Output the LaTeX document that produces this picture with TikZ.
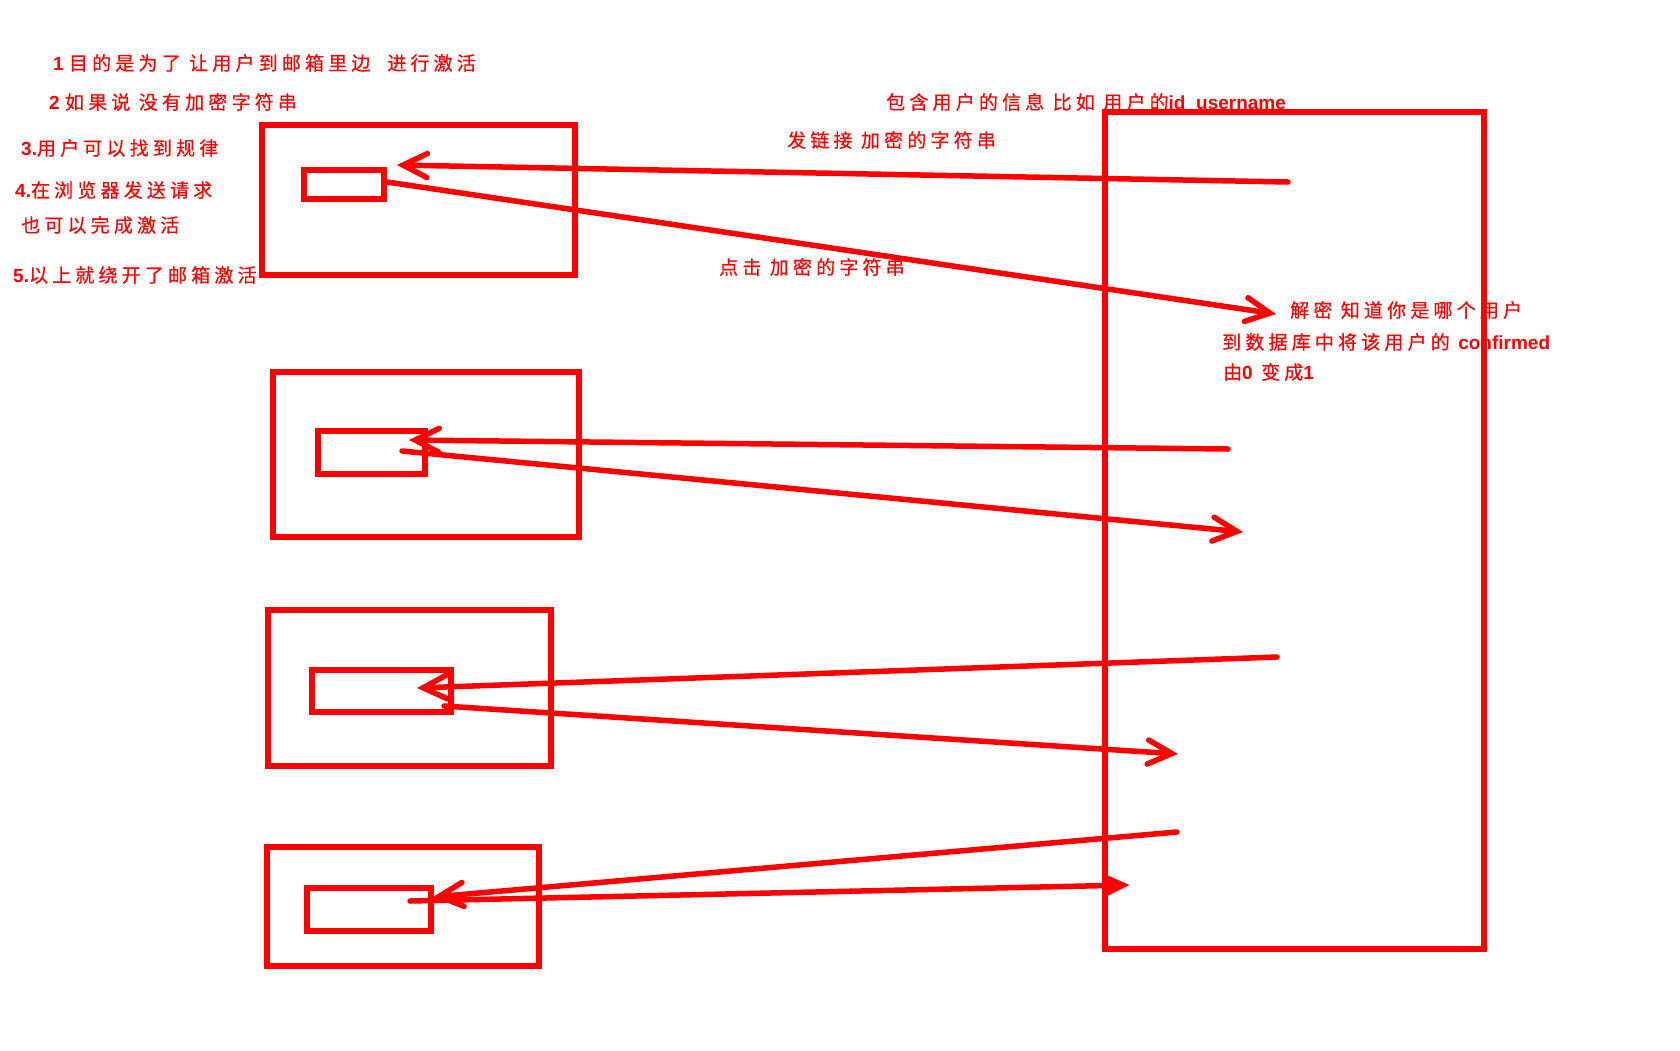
\documentclass[tikz,border=0pt]{standalone}
\usepackage{fontspec}
\setmainfont{Liberation Sans}
\newfontfamily\cjkfont[LetterSpace=22,FakeBold=0.6]{Noto Sans CJK SC}
\newfontfamily\latfont{Liberation Sans}
\usetikzlibrary{arrows.meta}
\definecolor{pen}{RGB}{255,0,0}
\newcommand{\zhtxt}[1]{{\cjkfont #1}}
\newcommand{\entxt}[1]{{\latfont\bfseries #1}}
\tikzset{
  lbl/.style={anchor=west, inner sep=0pt, text=pen, font=\fontsize{19}{22}\selectfont},
  frame/.style={draw=pen, line width=6pt, inner sep=0pt, rectangle},
  conn/.style={draw=pen, line width=5.5pt, line cap=round, line join=round},
  barb/.style={conn, -{Straight Barb[length=24pt,width=24pt,line cap=round]}},
  tri/.style={conn, -{Triangle[length=26pt,width=22pt]}}
}
\begin{document}
\begin{tikzpicture}[x=1pt,y=-1pt]
\useasboundingbox (0,0) rectangle (1680,1050);
% boxes
\node[frame, minimum width=313pt, minimum height=150pt] (b1) at (418.5,200) {};
\node[frame, minimum width=80pt, minimum height=29pt] (s1) at (344,184.5) {};
\node[frame, minimum width=306pt, minimum height=165pt] (b2) at (426,454.5) {};
\node[frame, minimum width=107pt, minimum height=43pt] (s2) at (371.5,452.5) {};
\node[frame, minimum width=283pt, minimum height=156pt] (b3) at (409.5,688) {};
\node[frame, minimum width=139pt, minimum height=42pt] (s3) at (381.5,691) {};
\node[frame, minimum width=272pt, minimum height=119pt] (b4) at (403,906.5) {};
\node[frame, minimum width=124pt, minimum height=43pt] (s4) at (369,909.5) {};
\node[frame, minimum width=379pt, minimum height=837pt] (srv) at (1294.5,530.5) {};
% arrow end points
\coordinate (a1s) at (1288,182); \coordinate (a1e) at (397,165);
\coordinate (a2s) at (387,182);  \coordinate (a2e) at (1276,314);
\coordinate (a3s) at (1228,449); \coordinate (a3e) at (409,440);
\coordinate (a4s) at (402,451);  \coordinate (a4e) at (1243,532);
\coordinate (a5s) at (1277,657); \coordinate (a5e) at (417,688);
\coordinate (a6s) at (444,706);  \coordinate (a6e) at (1178,754);
\coordinate (a7s) at (1177,832); \coordinate (a7e) at (433,897);
\coordinate (a8s) at (410,901);  \coordinate (a8e) at (1130,885);
\draw[barb] (a1s) -- (a1e);
\draw[barb] (a2s) -- (a2e);
\draw[barb] (a3s) -- (a3e);
\draw[barb] (a4s) -- (a4e);
\draw[barb] (a5s) -- (a5e);
\draw[barb] (a6s) -- (a6e);
\draw[barb] (a7s) -- (a7e);
\draw[tri] (a8s) -- (a8e);
% texts
\node[lbl] (t1) at (53,63) {\entxt{1 }\zhtxt{目的是为了 让用户到邮箱里边\ \ 进行激活}};
\node[lbl] (t2) at (49,102) {\entxt{2 }\zhtxt{如果说 没有加密字符串}};
\node[lbl] (t3) at (21,148) {\entxt{3.}\zhtxt{用户可以找到规律}};
\node[lbl] (t4) at (15,190) {\entxt{4.}\zhtxt{在浏览器发送请求}};
\node[lbl] (t5) at (21,225) {\zhtxt{也可以完成激活}};
\node[lbl] (t6) at (13,275) {\entxt{5.}\zhtxt{以上就绕开了邮箱激活}};
\node[lbl] (t7) at (886,102) {\zhtxt{包含用户的信息 比如 用户的}\entxt{id\ \ username}};
\node[lbl] (t8) at (787,140) {\zhtxt{发链接 加密的字符串}};
\node[lbl] (t9) at (719,267) {\zhtxt{点击 加密的字符串}};
\node[lbl] (t10) at (1290,310) {\zhtxt{解密 知道你是哪个用户}};
\node[lbl] (t11) at (1222,342) {\zhtxt{到数据库中将该用户的 }\entxt{confirmed}};
\node[lbl] (t12) at (1223,372) {\zhtxt{由}\entxt{0}\zhtxt{ 变成}\entxt{1}};
\end{tikzpicture}
\end{document}
